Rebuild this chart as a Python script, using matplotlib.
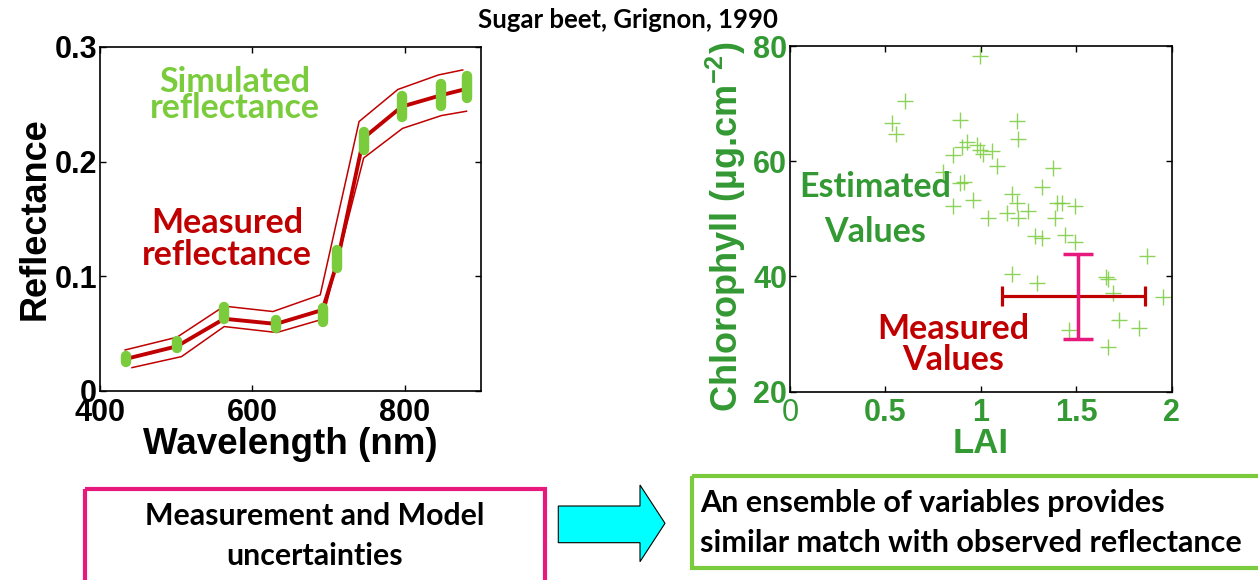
import matplotlib
matplotlib.use('Agg')
import matplotlib.pyplot as plt
import matplotlib.patches as patches

plt.rcParams['font.family'] = ['Liberation Sans', 'DejaVu Sans']
plt.rcParams['font.weight'] = 'bold'
plt.rcParams['axes.labelweight'] = 'bold'
plt.rcParams['mathtext.default'] = 'regular'

W, H = 1258, 580
CAL = ['Lato', 'DejaVu Sans']   # stand-in for Calibri

DARKRED = '#c00000'
LIGHTGREEN = '#7acc3c'
DARKGREEN = '#339933'
PINK = '#e8197d'

# ---- left panel: reflectance spectra ----
wl_meas = [434, 501, 563, 631, 692, 711, 746, 796, 848, 881]
refl_meas = [0.028, 0.039, 0.063, 0.0585, 0.0707, 0.1115, 0.2207, 0.248, 0.258, 0.2635]
wl_upper = [433, 501, 563, 627, 689, 740, 791, 844, 876]
refl_upper = [0.0358, 0.0469, 0.074, 0.0693, 0.0838, 0.235, 0.263, 0.2756, 0.28]
wl_lower = [442, 507, 563, 632, 692, 746, 797, 848, 881]
refl_lower = [0.0204, 0.030, 0.0562, 0.051, 0.0626, 0.2032, 0.229, 0.2402, 0.244]
sim_low = [0.0256, 0.0378, 0.0631, 0.0548, 0.0606, 0.1076, 0.2103, 0.2387, 0.2482, 0.2554]
sim_high = [0.0308, 0.0438, 0.0735, 0.0618, 0.0728, 0.1234, 0.2261, 0.2571, 0.2674, 0.2746]

# ---- right panel: estimated LAI / chlorophyll ----
lai_est = [0.996, 0.603, 0.533, 0.556, 0.891, 1.188, 1.197, 0.926, 0.979, 0.900,
           0.856, 0.996, 1.014, 1.057, 1.083, 0.804, 0.891, 0.912, 1.381, 1.319,
           1.162, 1.188, 0.961, 0.856, 1.040, 1.136, 1.197, 1.249, 1.398, 1.424,
           1.494, 1.389, 1.284, 1.319, 1.442, 1.494, 1.870, 1.162, 1.293, 1.657,
           1.669, 1.695, 1.954, 1.727, 1.831, 1.464, 1.669]
chl_est = [78.2, 70.5, 66.7, 64.7, 67.2, 67.0, 63.8, 63.4, 62.8, 62.5,
           61.1, 61.9, 61.3, 61.8, 59.1, 58.2, 56.2, 56.3, 58.8, 55.6,
           54.3, 52.7, 53.3, 52.3, 50.1, 51.0, 50.1, 51.4, 52.7, 52.8,
           52.2, 50.2, 47.0, 46.6, 47.2, 46.0, 43.5, 40.4, 38.8, 39.9,
           39.5, 37.1, 36.4, 32.4, 31.0, 30.6, 27.8]
lai_meas, chl_meas = 1.51, 36.5
lai_err = [[0.40], [0.35]]
chl_err = [[7.35], [7.35]]

fig = plt.figure(figsize=(W / 100, H / 100), dpi=100)


def px_rect(x0, y0, x1, y1):
    return [x0 / W, 1 - y1 / H, (x1 - x0) / W, (y1 - y0) / H]


def put_lines(ax, x, ys, strings, **kw):
    for y, s in zip(ys, strings):
        ax.text(x, y, s, ha='center', va='baseline', **kw)


def style_axes(ax, label_color, top_color, right_color):
    ax.tick_params(direction='in', length=4, width=1, top=True, right=True,
                   labelsize=22, labelcolor=label_color)
    ax.tick_params(axis='x', pad=5)
    ax.tick_params(axis='y', pad=2)
    for t in ax.xaxis.get_major_ticks():
        t.tick2line.set_color(top_color)
    for t in ax.yaxis.get_major_ticks():
        t.tick2line.set_color(right_color)
    for sp in ax.spines.values():
        sp.set_linewidth(1.2)


# left chart
ax1 = fig.add_axes(px_rect(100, 47, 481, 391))
ax1.plot(wl_upper, refl_upper, color=DARKRED, lw=1.1)
ax1.plot(wl_lower, refl_lower, color=DARKRED, lw=1.1)
ax1.plot(wl_meas, refl_meas, color=DARKRED, lw=2.8)
sim = ax1.vlines(wl_meas, sim_low, sim_high, color=LIGHTGREEN, lw=7.5, zorder=3)
sim.set_capstyle('round')
ax1.set_xlim(400, 900)
ax1.set_ylim(0, 0.3)
ax1.set_xticks([400, 600, 800], ['400', '600', '800'])
ax1.set_yticks([0, 0.1, 0.2, 0.3], ['0', '0.1', '0.2', '0.3'])
style_axes(ax1, 'black', LIGHTGREEN, 'black')
ax1.set_xlabel('Wavelength (nm)', fontsize=26.5)
ax1.set_ylabel('Reflectance', fontsize=26)
ax1.xaxis.set_label_coords(0.5, -0.105)
ax1.yaxis.set_label_coords(-0.125, 0.5)
put_lines(ax1, 577, [0.2610, 0.2378], ['Simulated', 'reflectance'],
          color=LIGHTGREEN, fontsize=24.5, family=CAL)
put_lines(ax1, 567, [0.1375, 0.1099], ['Measured', 'reflectance'],
          color=DARKRED, fontsize=24.5, family=CAL)

# right chart
ax2 = fig.add_axes(px_rect(790, 46, 1171.5, 391.5))
ax2.plot(lai_est, chl_est, '+', color=LIGHTGREEN, ms=11, mew=1.0, alpha=0.85)
eb = ax2.errorbar(lai_meas, chl_meas, xerr=lai_err, fmt='none', ecolor=DARKRED,
                  elinewidth=2.3, capsize=7.5, capthick=2.3, zorder=4)
for c in eb[1]:
    c.set_color(PINK)
ax2.errorbar(lai_meas, chl_meas, yerr=chl_err, fmt='none', ecolor=PINK,
             elinewidth=2.5, capsize=11, capthick=2.5, zorder=5)
ax2.set_xlim(0, 2)
ax2.set_ylim(20, 80)
ax2.set_xticks([0, 0.5, 1, 1.5, 2], ['0', '0.5', '1', '1.5', '2'])
ax2.set_yticks([20, 40, 60, 80], ['20', '40', '60', '80'])
style_axes(ax2, DARKGREEN, LIGHTGREEN, LIGHTGREEN)
ax2.get_xticklabels()[0].set_fontweight('normal')
ax2.set_xlabel('LAI', fontsize=25, color=DARKGREEN)
ax2.set_ylabel('Chlorophyll (µg.cm$^{-2}$)', fontsize=26, color=DARKGREEN)
ax2.xaxis.set_label_coords(0.5, -0.102)
ax2.yaxis.set_label_coords(-0.11, 0.478)
put_lines(ax2, 0.4456, [53.73, 46.02], ['Estimated', 'Values'],
          color=DARKGREEN, fontsize=24.5, family=CAL)
put_lines(ax2, 0.8545, [29.12, 23.73], ['Measured', 'Values'],
          color=DARKRED, fontsize=24.5, family=CAL)

# title and the boxes underneath, in pixel coordinates
ov = fig.add_axes([0, 0, 1, 1], zorder=-1)
ov.set_xlim(0, W)
ov.set_ylim(H, 0)
ov.axis('off')
ov.text(628, 28, 'Sugar beet, Grignon, 1990', ha='center', va='baseline',
        fontsize=18.5, family=CAL)

ov.add_patch(patches.Rectangle((85.3, 488.7), 459.4, 120, fill=False,
                               edgecolor=PINK, lw=3))
put_lines(ov, 315, [525, 565], ['Measurement and Model', 'uncertainties'],
          color='black', fontsize=21.8, family=CAL)

arrow = [(558.3, 506), (640, 506), (640, 485), (665, 523.3),
         (640, 561.7), (640, 542.7), (558.3, 542.7)]
ov.add_patch(patches.Polygon(arrow, closed=True, facecolor='#00ffff',
                             edgecolor='black', lw=0.8))

ov.add_patch(patches.Rectangle((692, 476), 620, 92, fill=False,
                               edgecolor=LIGHTGREEN, lw=3))
for y, s in zip([511.7, 551.7], ['An ensemble of variables provides',
                                 'similar match with observed reflectance']):
    ov.text(700, y, s, ha='left', va='baseline', color='black',
            fontsize=22, family=CAL)

fig.savefig('out.png', dpi=100)
